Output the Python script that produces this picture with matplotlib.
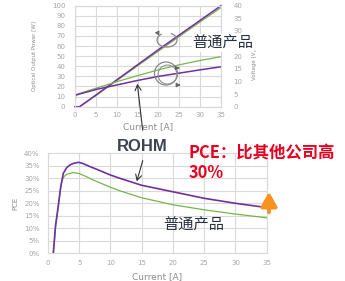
import matplotlib
matplotlib.use("Agg")
import matplotlib.pyplot as plt
from matplotlib.patches import Ellipse, Arc, FancyArrowPatch

plt.rcParams['font.family'] = ['DejaVu Sans', 'Noto Sans CJK SC']

# ---------------- data ----------------
# top chart: optical output power [W] (left axis) and voltage [V] (right axis) vs current [A]
current_p = [0, 1.1, 5, 10, 15, 20, 25, 30, 35]
power_rohm = [0, 0, 11.5, 26.5, 41.5, 56.5, 71, 85.5, 100]
power_std = [0, 0, 11.0, 25.8, 40.5, 55.0, 69.5, 84.0, 98]

current_v = [0, 0.1, 1, 5, 10, 15, 20, 25, 30, 35]
volt_rohm = [0, 4.5, 5.0, 6.8, 8.6, 10.4, 12.0, 13.3, 14.6, 15.8]
volt_std = [0, 4.7, 5.2, 7.3, 9.9, 12.3, 14.6, 16.6, 18.3, 19.8]

# bottom chart: PCE [%] vs current [A]
current_e_rohm = [0.85, 1.2, 1.65, 2.0, 2.45, 3.0, 3.5, 4.0, 4.85, 5.5, 6.7, 8, 10, 11.5, 15, 20, 25, 30, 35]
pce_rohm = [0, 11, 19, 26, 32, 34.3, 35.3, 35.9, 36.4, 36.0, 34.7, 33.4, 31.3, 30.0, 27.2, 24.6, 22.0, 20.0, 18.3]
current_e_std = [0.85, 1.2, 1.65, 2.0, 2.2, 2.6, 3.0, 4.05, 5.0, 6.0, 7.25, 10, 11.5, 15, 20, 25, 30, 35]
pce_std = [0, 10, 19, 25.5, 29, 30.8, 31.6, 32.3, 31.9, 30.8, 29.3, 26.4, 25.0, 22.2, 19.4, 17.4, 15.7, 14.2]

x_ticks = [0, 5, 10, 15, 20, 25, 30, 35]
power_ticks = [0, 10, 20, 30, 40, 50, 60, 70, 80, 90, 100]
volt_ticks = [0, 5, 10, 15, 20, 25, 30, 35, 40]
pce_ticks = [0, 5, 10, 15, 20, 25, 30, 35, 40]

# ---------------- style ----------------
W, H = 345, 281
PURPLE = '#7030a0'
GREEN = '#77b54a'
GRID = '#d9d9d9'
TICK = '#a6a6a6'
LABEL = '#8c8c8c'

fig = plt.figure(figsize=(W / 100, H / 100), dpi=100)


def fx(x):
    return x / W


def fy(y):
    return 1 - y / H


def style_axes(ax):
    ax.grid(True, color=GRID, lw=0.8)
    ax.set_axisbelow(True)
    for s in ax.spines.values():
        s.set_color(GRID)
        s.set_linewidth(0.8)
    ax.tick_params(length=0, labelsize=5, labelcolor=TICK)


# ---------------- top chart ----------------
ax1 = fig.add_axes([fx(75), fy(106.7), fx(221) - fx(75), (106.7 - 5.7) / H])
style_axes(ax1)
ax1.set_xlim(0, 35)
ax1.set_ylim(0, 100)
ax1.set_xticks(x_ticks)
ax1.set_yticks(power_ticks)
ax1.tick_params(axis='y', pad=7)
ax1.tick_params(axis='x', pad=4)
ax1.plot(current_p, power_std, color=GREEN, lw=0.9, clip_on=False)
ax1.plot(current_p, power_rohm, color=PURPLE, lw=1.1, clip_on=False)
ax1.set_xlabel('Current [A]', fontsize=6.5, color=LABEL, labelpad=3)
ax1.set_ylabel('Optical Output Power [W]', fontsize=4, color=LABEL)
ax1.yaxis.set_label_coords(-0.262, 0.5)

ax1r = ax1.twinx()
ax1r.set_ylim(0, 40)
ax1r.set_yticks(volt_ticks)
for s in ax1r.spines.values():
    s.set_color(GRID)
    s.set_linewidth(0.8)
ax1r.tick_params(length=0, labelsize=5, labelcolor=TICK, pad=9)
ax1r.plot(current_v, volt_std, color=GREEN, lw=0.9)
ax1r.plot(current_v, volt_rohm, color=PURPLE, lw=1.1)
ax1r.set_ylabel('Voltage [V]', fontsize=4, color=LABEL, rotation=90)
ax1r.yaxis.set_label_coords(1.215, 0.42)
# in the reference the "25" label is covered by the "普通产品" caption
ax1r.get_yticklabels()[volt_ticks.index(25)].set_visible(False)

# ---------------- bottom chart ----------------
ax2 = fig.add_axes([fx(48), fy(253.3), fx(266.7) - fx(48), 100 / H])
style_axes(ax2)
ax2.set_xlim(0, 35)
ax2.set_ylim(0, 40)
ax2.set_xticks(x_ticks)
ax2.set_yticks(pce_ticks)
ax2.set_yticklabels([f'{v}%' for v in pce_ticks])
ax2.tick_params(axis='y', pad=6)
ax2.tick_params(axis='x', pad=5)
ax2.plot(current_e_std, pce_std, color=GREEN, lw=0.9)
ax2.plot(current_e_rohm, pce_rohm, color=PURPLE, lw=1.2)
ax2.set_xlabel('Current [A]', fontsize=6.5, color=LABEL, labelpad=4)
ax2.set_ylabel('PCE', fontsize=5, color=LABEL)
ax2.yaxis.set_label_coords(-0.137, 0.5)

# ---------------- annotations ----------------
ANN = '#888888'
# rotation symbols in the top chart
fig.add_artist(Arc((fx(167), fy(40)), 20 / W, 14 / H, theta1=125, theta2=425,
                   transform=fig.transFigure, color=ANN, lw=0.9))
fig.add_artist(FancyArrowPatch((fx(160), fy(33)), (fx(152), fy(32.5)),
                               transform=fig.transFigure, arrowstyle='-|>,head_length=2,head_width=1.2',
                               color='#666666', lw=0.9, mutation_scale=1))
fig.add_artist(Ellipse((fx(166), fy(73.5)), 23 / W, 23 / H, transform=fig.transFigure,
                       fill=False, ec=ANN, lw=0.9))
fig.add_artist(Ellipse((fx(167.5), fy(74.5)), 19 / W, 19 / H, transform=fig.transFigure,
                       fill=False, ec=ANN, lw=0.7))
fig.add_artist(FancyArrowPatch((fx(176), fy(68)), (fx(182), fy(68)),
                               transform=fig.transFigure, arrowstyle='-|>,head_length=2,head_width=1.2',
                               color='#666666', lw=0.8, mutation_scale=1))
fig.add_artist(FancyArrowPatch((fx(176), fy(85)), (fx(183), fy(85)),
                               transform=fig.transFigure, arrowstyle='-|>,head_length=2,head_width=1.2',
                               color='#666666', lw=0.9, mutation_scale=1))

# ROHM label and arrows
TXT = '#3c4452'
fig.text(fx(142.5), fy(146.5), 'ROHM', fontsize=12, fontweight='bold', color=TXT,
         ha='center', va='center', family=['Liberation Sans', 'DejaVu Sans'])
fig.add_artist(FancyArrowPatch((fx(143), fy(133)), (fx(137), fy(81)), transform=fig.transFigure,
                               arrowstyle='->,head_length=4,head_width=2.2', color='#333333', lw=0.8,
                               mutation_scale=1))
fig.add_artist(FancyArrowPatch((fx(143.5), fy(158)), (fx(136), fy(184)), transform=fig.transFigure,
                               arrowstyle='->,head_length=4,head_width=2.2', color='#333333', lw=0.8,
                               mutation_scale=1))

# "普通产品" labels
CJK = ['Noto Sans CJK SC', 'DejaVu Sans']
fig.text(fx(223), fy(43), '普通产品', fontsize=11, color='#263040', ha='center', va='center', family=CJK,
         bbox=dict(facecolor='white', edgecolor='none', pad=0.5), zorder=5)
fig.text(fx(193.5), fy(225), '普通产品', fontsize=11, color='#263040', ha='center', va='center', family=CJK)

# red claim text
RED = '#e60020'
fig.text(fx(189), fy(153), 'PCE：比其他公司高', fontsize=11.8, fontweight='bold', color=RED,
         ha='left', va='center', family=CJK)
fig.text(fx(189), fy(173), '30%', fontsize=11.8, fontweight='bold', color=RED,
         ha='left', va='center', family=CJK)

# orange arrow
fig.add_artist(FancyArrowPatch((fx(269), fy(215)), (fx(269), fy(189)), transform=fig.transFigure,
                               arrowstyle='-|>,head_length=8.5,head_width=4.8', color='#f7931e', lw=2.8,
                               mutation_scale=1))

fig.savefig('out.png', dpi=100)
